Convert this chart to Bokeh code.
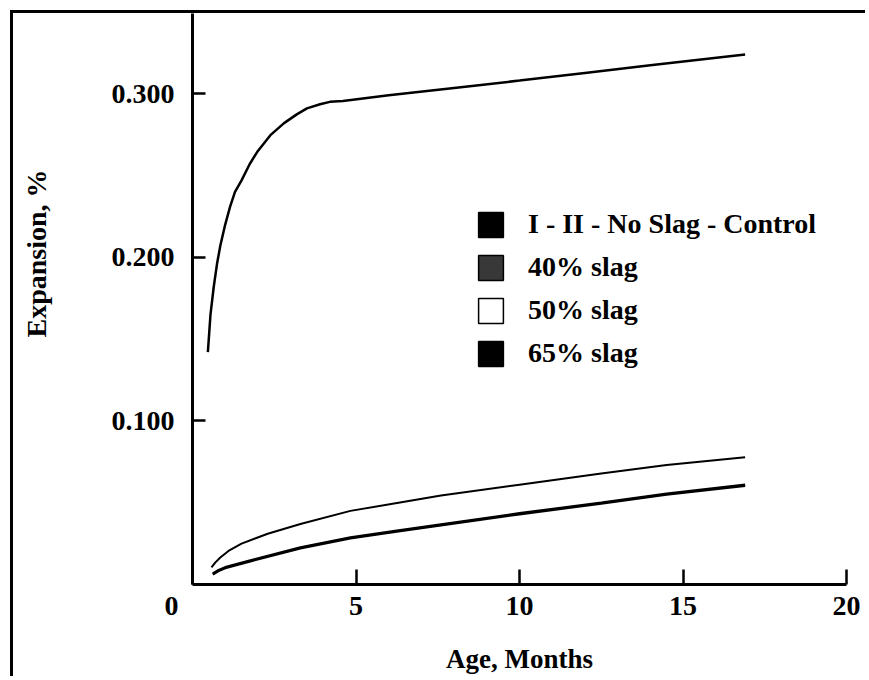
from bokeh.plotting import figure
from bokeh.models import Range1d, FixedTicker, Legend, LegendItem
from bokeh.embed import file_html
from bokeh.resources import INLINE

# ---- data ----
ctrl_x = [0.47, 0.55, 0.65, 0.75, 0.85, 1.0, 1.15, 1.3, 1.5, 1.75, 2.0, 2.4, 2.8, 3.2, 3.5, 3.9, 4.2, 4.6,
          6.0, 8.0, 10.0, 12.0, 14.0, 16.9]
ctrl_y = [0.142, 0.165, 0.182, 0.196, 0.207, 0.220, 0.231, 0.240, 0.247, 0.257, 0.265, 0.275, 0.282,
          0.2875, 0.291, 0.2935, 0.295, 0.2955, 0.299, 0.3035, 0.308, 0.3127, 0.3174, 0.324]

s40_x = [0.58, 0.7, 0.85, 1.1, 1.5, 2.3, 3.3, 4.83, 6.3, 7.6, 10.0, 12.5, 14.5, 16.9]
s40_y = [0.0105, 0.0135, 0.0165, 0.0205, 0.025, 0.031, 0.037, 0.045, 0.050, 0.0544, 0.061, 0.0678,
         0.073, 0.0778]

s50_x = [0.62, 0.8, 1.0, 1.77, 3.3, 4.83, 6.3, 7.6, 10.0, 12.5, 14.5, 16.9]
s50_y = [0.0067, 0.0088, 0.0105, 0.0147, 0.0226, 0.0287, 0.033, 0.0367, 0.0435, 0.050, 0.0555, 0.0609]

s65_x = [0.62, 0.8, 1.0, 1.77, 3.3, 4.83, 6.3, 7.6, 10.0, 12.5, 14.5, 16.9]
s65_y = [0.0062, 0.0083, 0.0100, 0.0142, 0.0221, 0.0282, 0.0325, 0.0362, 0.0430, 0.0495, 0.0550,
         0.0604]

series_x = [ctrl_x, s40_x, s50_x, s65_x]
series_y = [ctrl_y, s40_y, s50_y, s65_y]
series_width = [2.5, 2.0, 2.5, 2.5]

legend_labels = ["I - II - No Slag - Control", "40% slag", "50% slag", "65% slag"]
legend_fills = ["black", "#383838", "white", "black"]

x_ticks = [0, 5, 10, 15, 20]
x_tick_labels = {0: "0" + "\u00a0" * 6}
y_ticks = [0.1, 0.2, 0.3]
y_tick_labels = {0.1: "0.100", 0.2: "0.200", 0.3: "0.300"}

FONT = "Liberation Serif"

p = figure(width=855, height=666, output_backend="svg", toolbar_location=None,
           x_range=Range1d(0, 20), y_range=Range1d(0, 0.349),
           min_border_left=179, min_border_right=22, min_border_top=0,
           min_border_bottom=95)
# the original figure box: its left and top rules
p.margin = (10, 0, 0, 10)
p.styles = {"border-left": "3px solid black", "border-top": "3px solid black"}
p.outline_line_color = None
p.xgrid.visible = False
p.ygrid.visible = False
p.background_fill_color = "white"
p.border_fill_color = "white"

# axes
for ax in (p.xaxis[0], p.yaxis[0]):
    ax.axis_line_width = 3
    ax.axis_line_color = "black"
    ax.major_tick_line_width = 2.5
    ax.major_tick_line_color = "black"
    ax.minor_tick_line_color = None
    ax.major_tick_out = 0
    ax.major_label_text_font = FONT
    ax.major_label_text_font_style = "bold"
    ax.major_label_text_font_size = "28px"
    ax.major_label_text_color = "black"
    ax.axis_label_text_font = FONT
    ax.axis_label_text_font_style = "bold"
    ax.axis_label_text_color = "black"

p.xaxis.ticker = FixedTicker(ticks=x_ticks)
p.xaxis.major_label_overrides = x_tick_labels
p.xaxis.major_tick_in = 15
p.xaxis.major_label_standoff = 5
p.xaxis.axis_label = "Age, Months"
p.xaxis.axis_label_text_font_size = "27px"
p.xaxis.axis_label_standoff = 20

p.yaxis.ticker = FixedTicker(ticks=y_ticks)
p.yaxis.major_label_overrides = y_tick_labels
p.yaxis.major_tick_in = 13
p.yaxis.major_label_standoff = 18
p.yaxis.axis_label = "\u00a0" * 13 + "Expansion, %"
p.yaxis.axis_label_text_font_size = "28px"
p.yaxis.axis_label_standoff = 57

# curves
for xs, ys, lw in zip(series_x, series_y, series_width):
    p.line(xs, ys, line_color="black", line_width=lw)

# legend (square swatches; hidden one-point renderers only feed the legend)
items = []
for lab, fc, xs, ys in zip(legend_labels, legend_fills, series_x, series_y):
    r = p.quad(left=xs[:1], right=xs[:1], bottom=ys[:1], top=ys[:1],
               fill_color=fc, line_color="black", line_width=1.5)
    r.visible = False
    items.append(LegendItem(label=lab, renderers=[r]))
leg = Legend(items=items, location=(283, 215), orientation="vertical",
             glyph_width=31, glyph_height=31, label_height=31,
             label_standoff=22, spacing=11, padding=0, margin=0,
             border_line_color=None, background_fill_alpha=0,
             label_text_font=FONT, label_text_font_style="bold",
             label_text_font_size="28px", label_text_color="black")
p.add_layout(leg, "center")

open("out.html", "w").write(file_html(p, INLINE))
